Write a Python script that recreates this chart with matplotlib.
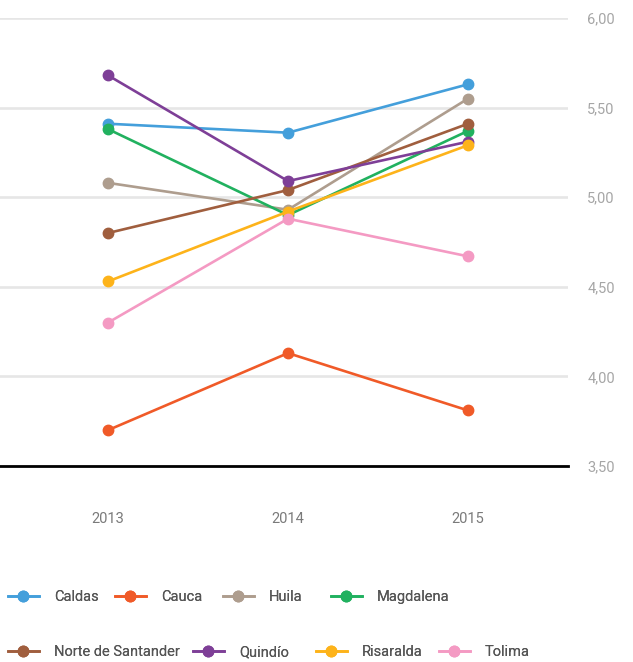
import matplotlib
matplotlib.use("Agg")
import matplotlib.pyplot as plt
from matplotlib.ticker import FuncFormatter
from matplotlib.lines import Line2D

plt.rcParams['font.family'] = ['Roboto', 'DejaVu Sans']

years = ["2013", "2014", "2015"]
names = ["Caldas", "Cauca", "Huila", "Magdalena",
         "Norte de Santander", "Quindío", "Risaralda", "Tolima"]
caldas = [5.41, 5.36, 5.63]
cauca = [3.70, 4.13, 3.81]
huila = [5.08, 4.93, 5.55]
magdalena = [5.38, 4.90, 5.37]
norte = [4.80, 5.04, 5.41]
quindio = [5.68, 5.09, 5.31]
risaralda = [4.53, 4.92, 5.29]
tolima = [4.30, 4.88, 4.67]
series = [caldas, cauca, huila, magdalena, norte, quindio, risaralda, tolima]
colors = ["#449fdb", "#f05a28", "#ae9d8e", "#21b15f",
          "#a05e3e", "#7e3f97", "#fdb31a", "#f49ac3"]

W, H = 633, 662
fig = plt.figure(figsize=(W / 100, H / 100), dpi=100)
ax = fig.add_axes([0, 1 - 466 / H, 568 / W, (466 - 18) / H])

x = list(range(len(years)))
for vals, c, n in zip(series, colors, names):
    ax.plot(x, vals, color=c, lw=1.9, marker="o", ms=7.5, mec=c, mfc=c,
            label=n, clip_on=False, zorder=3)

ax.set_xlim(-0.6, 2 + 100 / 180)
ax.set_ylim(3.5, 6.0)
ax.set_yticks([3.5, 4.0, 4.5, 5.0, 5.5, 6.0])
ax.yaxis.set_major_formatter(FuncFormatter(lambda v, p: f"{v:.2f}".replace(".", ",")))
ax.yaxis.tick_right()
ax.set_xticks(x)
ax.set_xticklabels(years)
ax.tick_params(axis="y", length=0, pad=14, labelsize=10.5, labelcolor="#a6a6a6")
ax.tick_params(axis="x", length=0, pad=33, labelsize=10.5, labelcolor="#7a7a7a")
ax.grid(axis="y", color="#e6e6e6", lw=1.9, zorder=0)
ax.set_axisbelow(True)
for s in ["top", "left", "right"]:
    ax.spines[s].set_visible(False)
ax.spines["bottom"].set_color("black")
ax.spines["bottom"].set_linewidth(2)
ax.spines["bottom"].set_zorder(4)

# legend items laid out like the original (two rows, flowing)
leg_pos = [(8, 597), (115, 597), (223, 597), (331, 597),
           (8, 652), (193, 652), (316, 652), (439, 652)]
for (px, py), c, n in zip(leg_pos, colors, names):
    h = Line2D([], [], color=c, lw=1.9, marker="o", ms=7.5, mec=c, mfc=c)
    lg = fig.legend(handles=[h], labels=[n], loc="center left",
                    bbox_to_anchor=(px / W, 1 - py / H), frameon=False,
                    handlelength=2.1, handletextpad=1.05, borderpad=0,
                    borderaxespad=0, fontsize=10.5, labelcolor="#555555")
    fig.add_artist(lg)

fig.savefig("out.png", dpi=100)
